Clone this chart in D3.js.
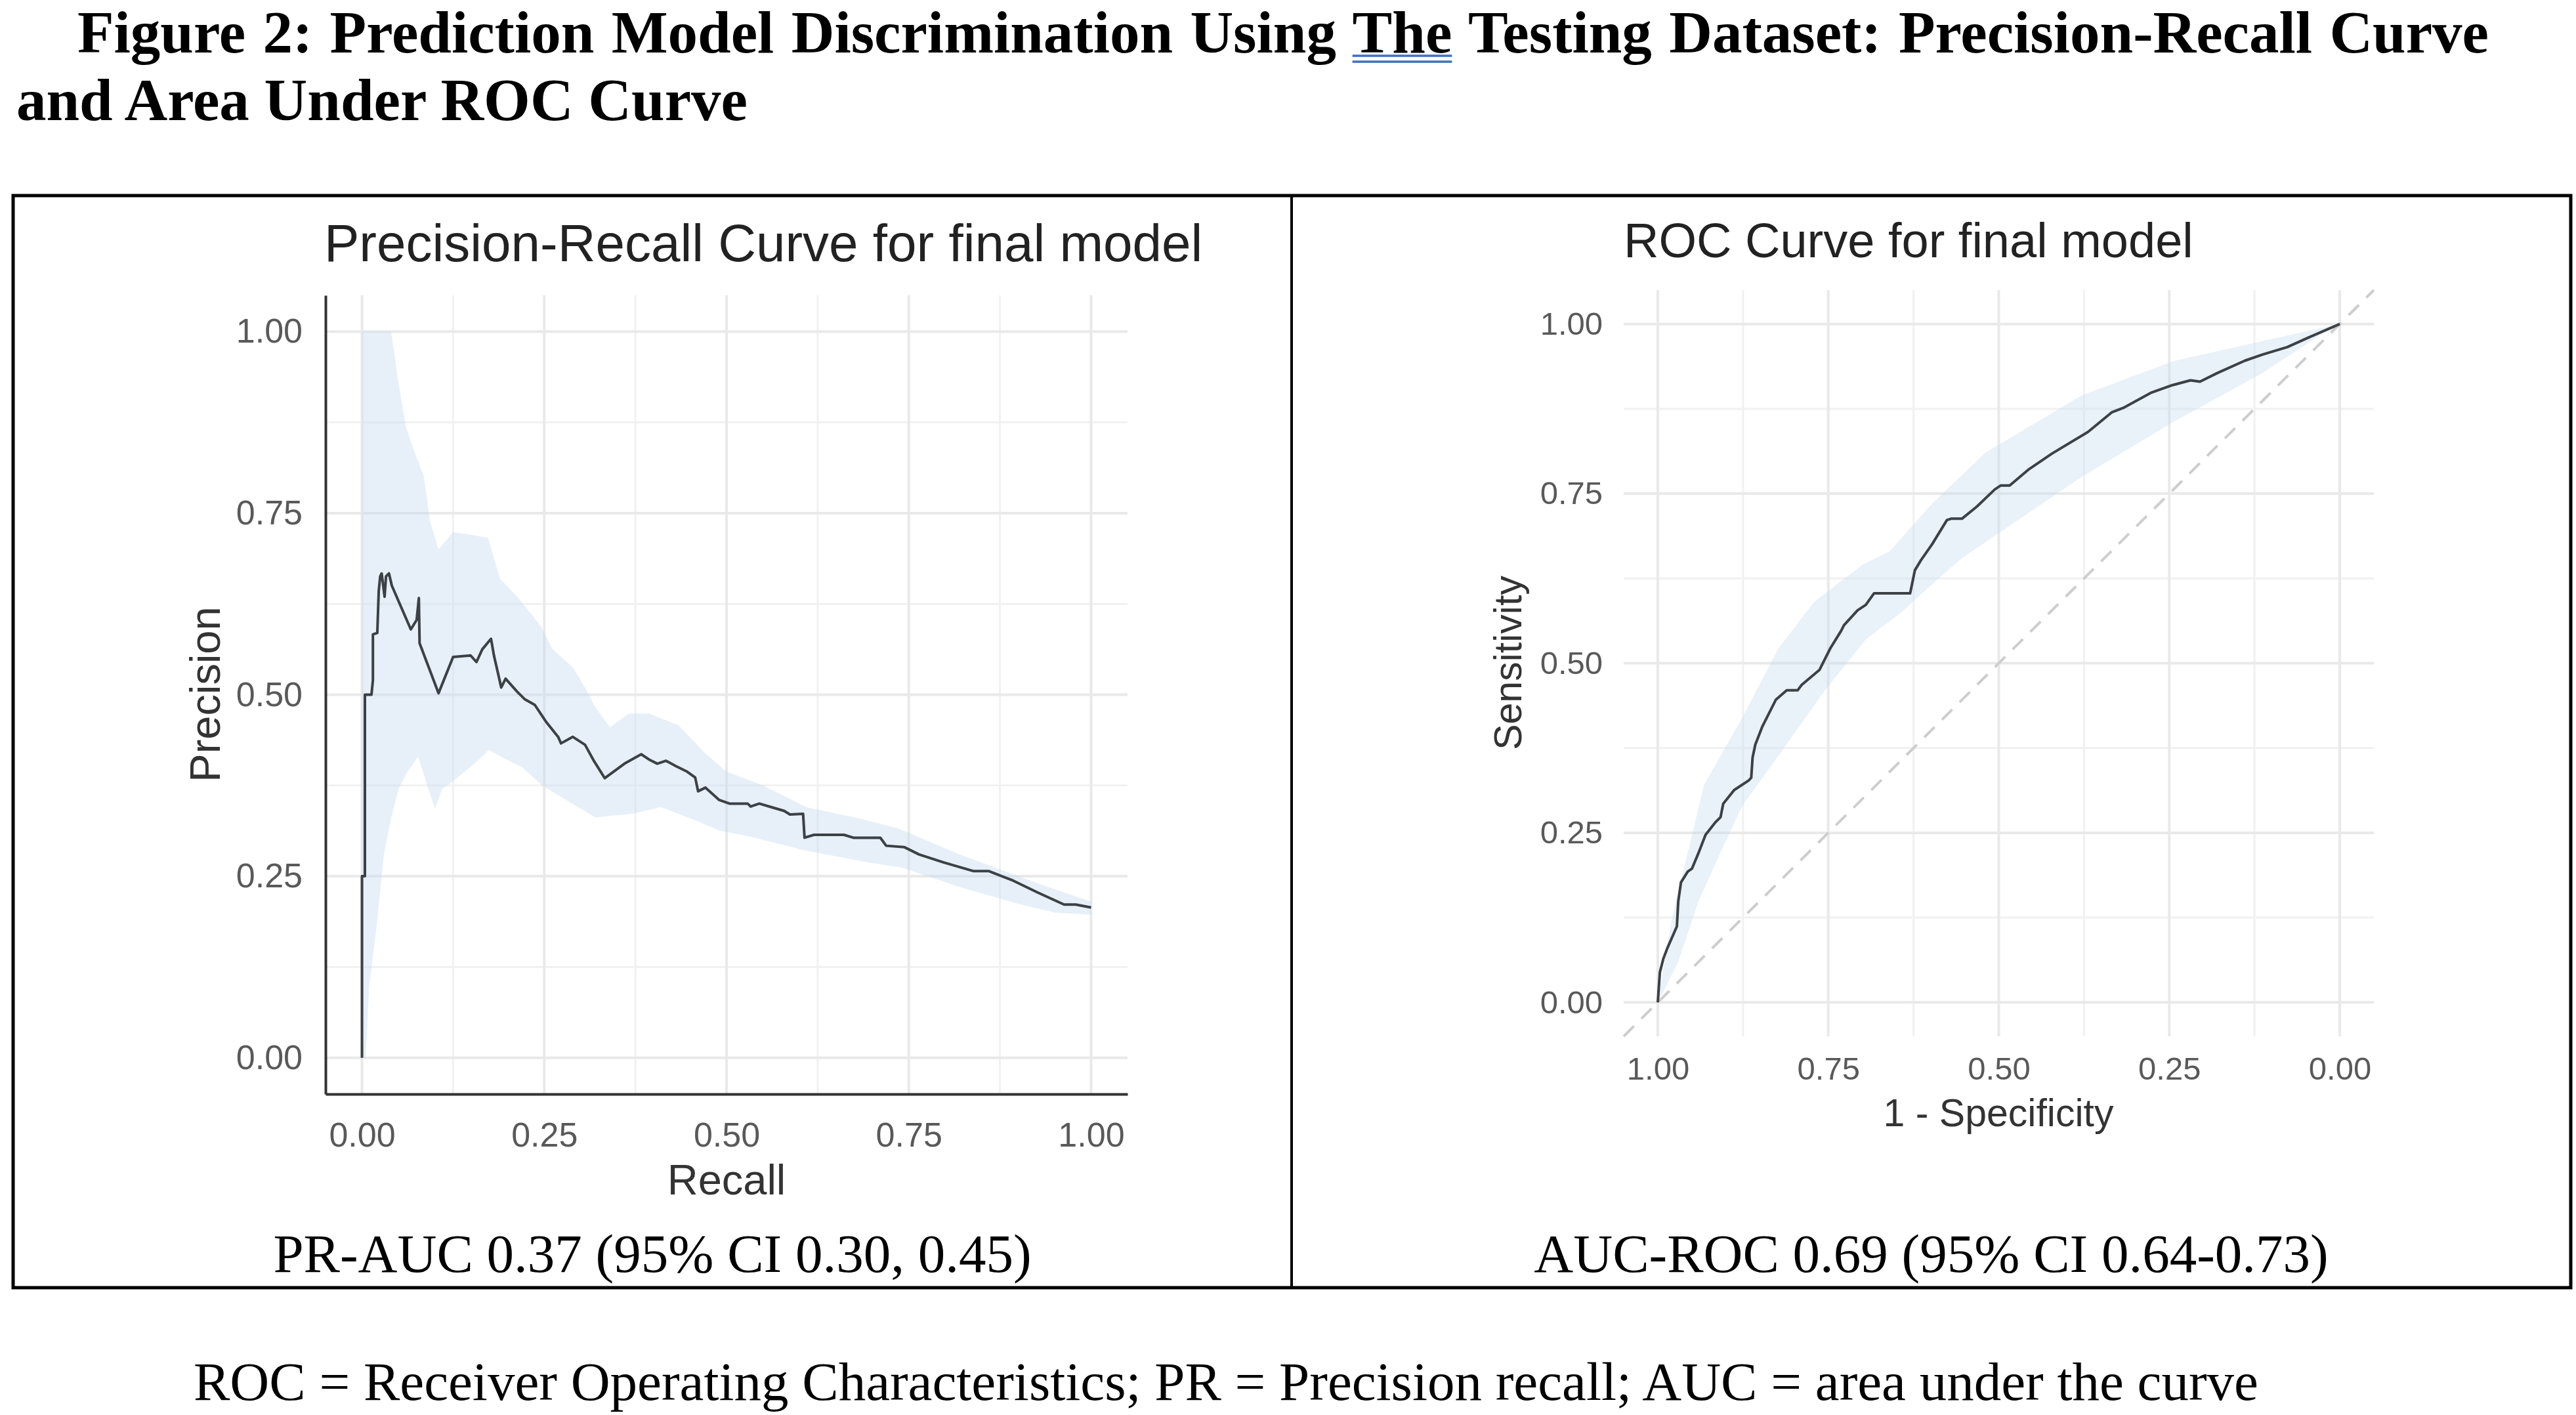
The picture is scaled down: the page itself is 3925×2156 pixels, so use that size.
<!DOCTYPE html>
<html><head><meta charset="utf-8">
<script src="https://cdn.jsdelivr.net/npm/d3@7"></script>
<style>html,body{margin:0;padding:0;background:#fff;} svg{display:block;}</style>
</head><body>
<svg id="fig" width="3925" height="2156"></svg>
<script>
// ---------------- DATA ----------------
const headingLine1 = "Figure 2: Prediction Model Discrimination Using The Testing Dataset: Precision-Recall Curve";
const headingLine2 = "and Area Under ROC Curve";
const prTitle = "Precision-Recall Curve for final model";
const rocTitle = "ROC Curve for final model";
const prCaption = "PR-AUC 0.37 (95% CI 0.30, 0.45)";
const rocCaption = "AUC-ROC 0.69 (95% CI 0.64-0.73)";
const footnote = "ROC = Receiver Operating Characteristics; PR = Precision recall; AUC = area under the curve";

const majorTicks = [0, 0.25, 0.5, 0.75, 1];
const minorTicks = [0.125, 0.375, 0.625, 0.875];
const tickLabels = ["0.00", "0.25", "0.50", "0.75", "1.00"];

// Precision-recall curve
const prRecall = [0,0,0.004,0.004,0.013,0.015,0.015,0.021,0.023,0.025,0.027,0.031,0.033,0.037,0.041,0.067,0.075,0.078,0.079,0.105,0.125,0.149,0.157,0.165,0.177,0.181,0.191,0.197,0.213,0.223,0.237,0.253,0.269,0.273,0.289,0.306,0.318,0.333,0.36,0.383,0.395,0.405,0.417,0.43,0.446,0.457,0.461,0.471,0.49,0.504,0.529,0.533,0.545,0.562,0.579,0.587,0.605,0.607,0.62,0.661,0.674,0.711,0.719,0.744,0.764,0.798,0.839,0.86,0.893,0.926,0.963,0.979,1.0];
const prPrecision = [0,0.25,0.25,0.50,0.50,0.52,0.583,0.585,0.643,0.663,0.667,0.635,0.663,0.667,0.65,0.59,0.603,0.633,0.571,0.502,0.552,0.554,0.545,0.5625,0.577,0.554,0.51,0.522,0.504,0.494,0.486,0.462,0.442,0.433,0.442,0.431,0.409,0.385,0.405,0.418,0.41,0.405,0.409,0.402,0.394,0.386,0.367,0.372,0.355,0.350,0.350,0.346,0.350,0.345,0.340,0.335,0.336,0.303,0.307,0.307,0.303,0.303,0.292,0.290,0.280,0.269,0.257,0.257,0.244,0.228,0.211,0.211,0.207];
// Precision-recall confidence band
const prUpperRecall = [0,0.04,0.05,0.06,0.07,0.085,0.093,0.105,0.125,0.15,0.173,0.189,0.213,0.245,0.261,0.289,0.306,0.318,0.34,0.366,0.394,0.434,0.47,0.5,0.55,0.61,0.68,0.735,0.82,0.9,0.95,1.0];
const prUpper = [1.0,1.0,0.93,0.87,0.84,0.80,0.74,0.70,0.724,0.72,0.716,0.66,0.635,0.595,0.563,0.538,0.51,0.486,0.455,0.474,0.474,0.458,0.42,0.394,0.375,0.345,0.33,0.316,0.28,0.25,0.232,0.215];
const prLowerRecall = [0,0.005,0.01,0.02,0.03,0.04,0.05,0.06,0.077,0.088,0.1,0.11,0.13,0.16,0.174,0.19,0.22,0.247,0.28,0.32,0.37,0.41,0.45,0.49,0.53,0.61,0.70,0.74,0.82,0.90,0.95,1.0];
const prLower = [0,0,0.10,0.18,0.28,0.33,0.37,0.39,0.415,0.38,0.343,0.37,0.385,0.41,0.424,0.415,0.40,0.375,0.355,0.331,0.336,0.345,0.33,0.313,0.305,0.285,0.268,0.262,0.235,0.212,0.2,0.197];

// ROC curve (x axis shows specificity, reversed)
const rocSpecificity = [1.000,0.997,0.992,0.986,0.972,0.970,0.966,0.956,0.950,0.940,0.930,0.916,0.908,0.904,0.888,0.867,0.863,0.861,0.857,0.847,0.827,0.811,0.795,0.789,0.763,0.747,0.731,0.727,0.707,0.695,0.683,0.630,0.623,0.614,0.598,0.576,0.570,0.554,0.532,0.506,0.497,0.484,0.457,0.422,0.369,0.334,0.316,0.276,0.245,0.219,0.205,0.179,0.139,0.113,0.077,0.046,0.000];
const rocSensitivity = [0.000,0.044,0.064,0.080,0.112,0.149,0.177,0.193,0.197,0.221,0.247,0.265,0.273,0.293,0.313,0.327,0.331,0.361,0.380,0.406,0.446,0.460,0.460,0.468,0.490,0.522,0.548,0.556,0.578,0.586,0.603,0.603,0.637,0.652,0.675,0.711,0.713,0.713,0.731,0.756,0.762,0.762,0.785,0.809,0.841,0.870,0.877,0.899,0.910,0.917,0.915,0.928,0.946,0.955,0.966,0.980,1.000];
// ROC confidence band
const rocUpperSpec = [1.0,0.98,0.956,0.932,0.876,0.823,0.771,0.70,0.66,0.598,0.52,0.378,0.245,0.113,0.0];
const rocUpperSens = [0.0,0.12,0.221,0.321,0.42,0.522,0.59,0.645,0.665,0.735,0.81,0.895,0.945,0.975,1.0];
const rocLowerSpec = [1.0,0.97,0.94,0.904,0.876,0.815,0.755,0.695,0.643,0.594,0.554,0.466,0.378,0.245,0.113,0.025,0.0];
const rocLowerSens = [0,0.06,0.15,0.23,0.29,0.375,0.46,0.535,0.575,0.62,0.655,0.715,0.775,0.855,0.928,0.986,1.0];
const rocDiagSpec = [1.05, -0.05];
const rocDiagSens = [-0.05, 1.05];

// ---------------- STYLE ----------------
const serif = "'Liberation Serif','Times New Roman',serif";
const sans = "'Liberation Sans',Arial,sans-serif";
const lineColor = "#3c4145";
const bandFill = "#c6dbef";
const fmt = d => tickLabels[majorTicks.indexOf(d)];

const svg = d3.select('#fig');
svg.append('rect').attr('width', 3925).attr('height', 2156).attr('fill', '#fff');

// Heading
const h1 = svg.append('text').attr('x', 118).attr('y', 80)
  .attr('font-family', serif).attr('font-weight', 'bold').attr('font-size', 91)
  .attr('fill', '#000').text(headingLine1);
const nat = h1.node().getComputedTextLength();
const nSp = (headingLine1.match(/ /g) || []).length;
h1.attr('word-spacing', (3674 - nat) / nSp);
const idx = headingLine1.indexOf('The');
const c0 = h1.node().getExtentOfChar(idx), c2 = h1.node().getExtentOfChar(idx + 2);
[85, 94].forEach(yy => svg.append('line')
  .attr('x1', c0.x).attr('x2', c2.x + c2.width).attr('y1', yy).attr('y2', yy)
  .attr('stroke', '#3f6fc4').attr('stroke-width', 3.5));
svg.append('text').attr('x', 25).attr('y', 183)
  .attr('font-family', serif).attr('font-weight', 'bold').attr('font-size', 91)
  .attr('fill', '#000').text(headingLine2);

// Frame
svg.append('rect').attr('x', 20).attr('y', 298).attr('width', 3897).attr('height', 1664)
  .attr('fill', 'none').attr('stroke', '#000').attr('stroke-width', 5);
svg.append('line').attr('x1', 1968).attr('x2', 1968).attr('y1', 298).attr('y2', 1962)
  .attr('stroke', '#000').attr('stroke-width', 4);

function grid(g, x, y) {
  const [x0, x1] = x.range().slice().sort((a, b) => a - b);
  const [y0, y1] = y.range().slice().sort((a, b) => a - b);
  minorTicks.forEach(v => {
    g.append('line').attr('x1', x(v)).attr('x2', x(v)).attr('y1', y0).attr('y2', y1).attr('stroke', '#f1f1f1').attr('stroke-width', 3);
    g.append('line').attr('y1', y(v)).attr('y2', y(v)).attr('x1', x0).attr('x2', x1).attr('stroke', '#f1f1f1').attr('stroke-width', 3);
  });
  majorTicks.forEach(v => {
    g.append('line').attr('x1', x(v)).attr('x2', x(v)).attr('y1', y0).attr('y2', y1).attr('stroke', '#e9e9e9').attr('stroke-width', 4);
    g.append('line').attr('y1', y(v)).attr('y2', y(v)).attr('x1', x0).attr('x2', x1).attr('stroke', '#e9e9e9').attr('stroke-width', 4);
  });
}
function styleAxis(g, size) {
  g.selectAll('text').attr('font-family', sans).attr('font-size', size).attr('fill', '#595959');
}

// ---------------- PR PANEL ----------------
const prX = d3.scaleLinear().domain([-0.05, 1.05]).range([496, 1718]);
const prY = d3.scaleLinear().domain([-0.05, 1.05]).range([1667, 450]);
const gPR = svg.append('g');
grid(gPR, prX, prY);
const prLineGen = d3.line().x(d => prX(d[0])).y(d => prY(d[1]));
const prBand = d3.zip(prUpperRecall, prUpper).concat(d3.zip(prLowerRecall, prLower).reverse());
gPR.append('path').attr('d', prLineGen(prBand) + 'Z').attr('fill', bandFill).attr('fill-opacity', 0.42);
gPR.append('path').attr('d', prLineGen(d3.zip(prRecall, prPrecision)))
  .attr('fill', 'none').attr('stroke', lineColor).attr('stroke-width', 4).attr('stroke-linejoin', 'round');

const axPRy = svg.append('g').attr('transform', 'translate(496,0)')
  .call(d3.axisLeft(prY).tickValues(majorTicks).tickFormat(fmt).tickSize(0).tickPadding(35));
axPRy.select('.domain').attr('stroke', '#333').attr('stroke-width', 4);
styleAxis(axPRy, 52);
const axPRx = svg.append('g').attr('transform', 'translate(0,1667)')
  .call(d3.axisBottom(prX).tickValues(majorTicks).tickFormat(fmt).tickSize(0).tickPadding(43));
axPRx.select('.domain').attr('stroke', '#333').attr('stroke-width', 4);
styleAxis(axPRx, 52);

svg.append('text').attr('x', 494).attr('y', 398).attr('font-family', sans).attr('font-size', 80)
  .attr('fill', '#222').text(prTitle);
svg.append('text').attr('x', 1107).attr('y', 1820).attr('text-anchor', 'middle')
  .attr('font-family', sans).attr('font-size', 65).attr('fill', '#333').text('Recall');
svg.append('text').attr('transform', 'translate(335,1058) rotate(-90)').attr('text-anchor', 'middle')
  .attr('font-family', sans).attr('font-size', 65).attr('fill', '#333').text('Precision');

// ---------------- ROC PANEL ----------------
const rocX = d3.scaleLinear().domain([1.05, -0.05]).range([2474, 3617]);
const rocY = d3.scaleLinear().domain([-0.05, 1.05]).range([1579, 442]);
const gROC = svg.append('g');
grid(gROC, rocX, rocY);
const rocLineGen = d3.line().x(d => rocX(d[0])).y(d => rocY(d[1]));
const rocBand = d3.zip(rocUpperSpec, rocUpperSens).concat(d3.zip(rocLowerSpec, rocLowerSens).reverse());
gROC.append('path').attr('d', rocLineGen(rocBand) + 'Z').attr('fill', bandFill).attr('fill-opacity', 0.38);
gROC.append('path').attr('d', rocLineGen(d3.zip(rocDiagSpec, rocDiagSens)))
  .attr('fill', 'none').attr('stroke', '#cdcdcd').attr('stroke-width', 4).attr('stroke-dasharray', '22,16');
gROC.append('path').attr('d', rocLineGen(d3.zip(rocSpecificity, rocSensitivity)))
  .attr('fill', 'none').attr('stroke', lineColor).attr('stroke-width', 4).attr('stroke-linejoin', 'round');

const axROCy = svg.append('g').attr('transform', 'translate(2474,0)')
  .call(d3.axisLeft(rocY).tickValues(majorTicks).tickFormat(fmt).tickSize(0).tickPadding(32));
axROCy.select('.domain').remove();
styleAxis(axROCy, 49);
const axROCx = svg.append('g').attr('transform', 'translate(0,1579)')
  .call(d3.axisBottom(rocX).tickValues(majorTicks).tickFormat(fmt).tickSize(0).tickPadding(31));
axROCx.select('.domain').remove();
styleAxis(axROCx, 49);

svg.append('text').attr('x', 2474).attr('y', 392).attr('font-family', sans).attr('font-size', 74)
  .attr('fill', '#222').text(rocTitle);
svg.append('text').attr('x', 3045).attr('y', 1716).attr('text-anchor', 'middle')
  .attr('font-family', sans).attr('font-size', 59).attr('fill', '#333').text('1 - Specificity');
svg.append('text').attr('transform', 'translate(2318,1010) rotate(-90)').attr('text-anchor', 'middle')
  .attr('font-family', sans).attr('font-size', 59).attr('fill', '#333').text('Sensitivity');

// ---------------- CAPTIONS ----------------
svg.append('text').attr('x', 994).attr('y', 1938).attr('text-anchor', 'middle')
  .attr('font-family', serif).attr('font-size', 83).attr('fill', '#000').text(prCaption);
svg.append('text').attr('x', 2942.5).attr('y', 1938).attr('text-anchor', 'middle')
  .attr('font-family', serif).attr('font-size', 83).attr('fill', '#000').text(rocCaption);
svg.append('text').attr('x', 295).attr('y', 2133)
  .attr('font-family', serif).attr('font-size', 83).attr('fill', '#000').text(footnote);
</script>
</body></html>
